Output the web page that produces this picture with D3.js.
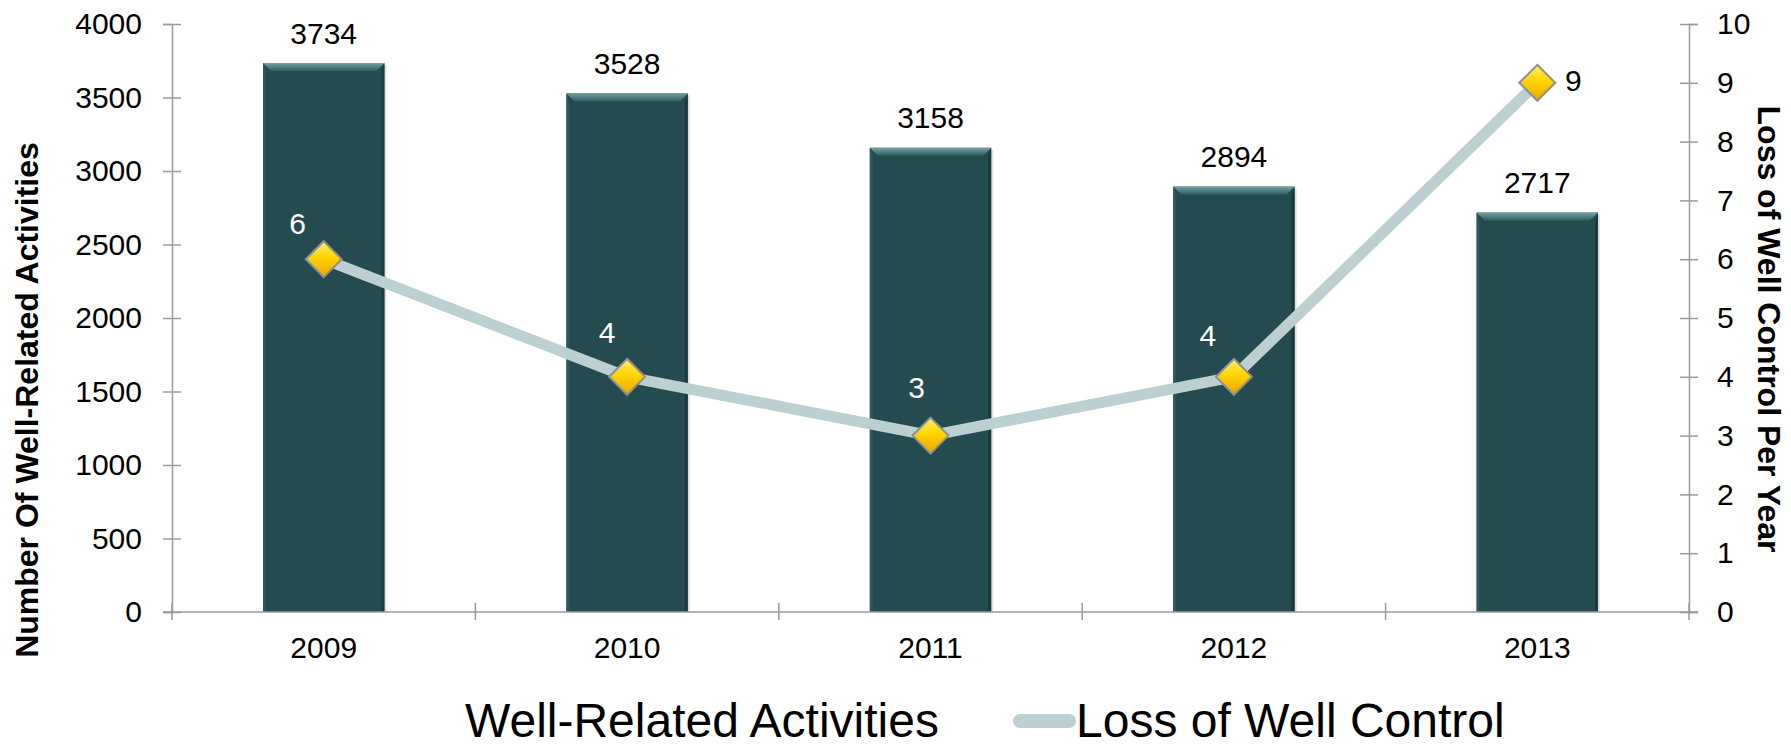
<!DOCTYPE html>
<html>
<head>
<meta charset="utf-8">
<script src="https://cdn.jsdelivr.net/npm/d3@7"></script>
<style>
  body { margin: 0; background: #fff; }
  text { font-family: "Liberation Sans", Arial, sans-serif; }
</style>
</head>
<body>
<div id="chart"></div>
<script>
// data
var years      = ["2009", "2010", "2011", "2012", "2013"];
var activities = [3734, 3528, 3158, 2894, 2717];
var losses     = [6, 4, 3, 4, 9];
var leftTicks  = [0, 500, 1000, 1500, 2000, 2500, 3000, 3500, 4000];
var rightTicks = [0, 1, 2, 3, 4, 5, 6, 7, 8, 9, 10];

// where each loss label sits relative to its marker
var lossLabelShift = [[-26, -36], [-20, -44], [-14, -48], [-26, -41], [36, -2]];
var lossLabelColor = ["#fff", "#fff", "#fff", "#fff", "#000"];

var W = 1791, H = 745;
var plotLeft = 172, plotRight = 1689, plotTop = 24, plotBottom = 612;
var labelSize = "30px";

var svg = d3.select("#chart").append("svg")
    .attr("width", W).attr("height", H);

var defs = svg.append("defs");

var bevel = defs.append("linearGradient").attr("id", "bevel")
    .attr("x1", 0).attr("y1", 0).attr("x2", 0).attr("y2", 1);
bevel.append("stop").attr("offset", "0%").attr("stop-color", "#72a1a3");
bevel.append("stop").attr("offset", "100%").attr("stop-color", "#2f5c60");

var gold = defs.append("linearGradient").attr("id", "gold")
    .attr("x1", 0).attr("y1", 0).attr("x2", 0).attr("y2", 1);
gold.append("stop").attr("offset", "0%").attr("stop-color", "#fff06a");
gold.append("stop").attr("offset", "45%").attr("stop-color", "#ffd400");
gold.append("stop").attr("offset", "100%").attr("stop-color", "#eaa600");

var x = d3.scaleBand().domain(years).range([plotLeft, plotRight])
    .paddingInner(0.6).paddingOuter(0.3);
var yL = d3.scaleLinear().domain([0, 4000]).range([plotBottom, plotTop]);
var yR = d3.scaleLinear().domain([0, 10]).range([plotBottom, plotTop]);

var cx = function(d) { return x(d) + x.bandwidth() / 2; };

// bars
var bars = svg.append("g").attr("class", "bars")
  .selectAll("g").data(years).enter().append("g");

bars.append("rect")
    .attr("x", function(d) { return x(d) + 2; })
    .attr("y", function(d, i) { return yL(activities[i]) + 2; })
    .attr("width", x.bandwidth())
    .attr("height", function(d, i) { return plotBottom - yL(activities[i]) - 2; })
    .attr("fill", "#c8c8c8").attr("opacity", 0.6);

bars.append("rect")
    .attr("x", function(d) { return x(d); })
    .attr("y", function(d, i) { return yL(activities[i]); })
    .attr("width", x.bandwidth())
    .attr("height", function(d, i) { return plotBottom - yL(activities[i]); })
    .attr("fill", "#244c50");

var b = 8;
bars.append("path")
    .attr("d", function(d, i) {
      var x0 = x(d), x1 = x(d) + x.bandwidth(), y0 = yL(activities[i]);
      return "M" + x0 + "," + y0 + "L" + x1 + "," + y0 + "L" + (x1 - b) + "," + (y0 + b) +
             "L" + (x0 + b) + "," + (y0 + b) + "Z";
    })
    .attr("fill", "url(#bevel)");

bars.append("path")
    .attr("d", function(d, i) {
      var x0 = x(d), y0 = yL(activities[i]);
      return "M" + x0 + "," + y0 + "L" + (x0 + 3) + "," + (y0 + b) + "L" + (x0 + 3) + "," + plotBottom +
             "L" + x0 + "," + plotBottom + "Z";
    })
    .attr("fill", "#2c585c");

bars.append("path")
    .attr("d", function(d, i) {
      var x1 = x(d) + x.bandwidth(), y0 = yL(activities[i]);
      return "M" + x1 + "," + y0 + "L" + (x1 - 3) + "," + (y0 + b) + "L" + (x1 - 3) + "," + plotBottom +
             "L" + x1 + "," + plotBottom + "Z";
    })
    .attr("fill", "#1b3a3d");

bars.append("text")
    .attr("x", cx)
    .attr("y", function(d, i) { return yL(activities[i]) - 30; })
    .attr("dy", "0.35em")
    .attr("text-anchor", "middle")
    .style("font-size", labelSize)
    .text(function(d, i) { return activities[i]; });

// axes
var axisColor = "#9a9a9a";

var gL = svg.append("g").attr("transform", "translate(" + plotLeft + ",0)")
    .call(d3.axisLeft(yL).tickValues(leftTicks).tickFormat(d3.format("d"))
      .tickSize(9).tickPadding(21));
gL.selectAll("line").attr("x1", 9);

var gR = svg.append("g").attr("transform", "translate(" + plotRight + ",0)")
    .call(d3.axisRight(yR).tickValues(rightTicks).tickSize(9).tickPadding(19));
gR.selectAll("line").attr("x1", -9);

var gX = svg.append("g").attr("transform", "translate(0," + plotBottom + ")")
    .call(d3.axisBottom(x).tickSize(0).tickPadding(25));
gX.select(".domain").attr("d", "M" + (plotLeft - 9) + ",0H" + (plotRight + 9));

var bounds = d3.range(years.length + 1).map(function(i) { return plotLeft + i * x.step(); });
gX.selectAll(".bound").data(bounds).enter().append("line")
    .attr("class", "bound")
    .attr("x1", function(d) { return d; }).attr("x2", function(d) { return d; })
    .attr("y1", -9).attr("y2", 8);

[gL, gR, gX].forEach(function(g) {
  g.select(".domain").attr("stroke", axisColor).attr("stroke-width", 1.5);
  g.selectAll("line").attr("stroke", axisColor).attr("stroke-width", 1.5);
  g.selectAll("text").attr("fill", "#000").style("font-size", labelSize)
      .style("font-family", "'Liberation Sans', Arial, sans-serif");
});

// axis titles
svg.append("text")
    .attr("transform", "translate(38,400) rotate(-90)")
    .attr("text-anchor", "middle")
    .style("font-size", "32px").style("font-weight", "bold")
    .text("Number Of Well-Related Activities");

svg.append("text")
    .attr("transform", "translate(1758,329) rotate(90)")
    .attr("text-anchor", "middle")
    .style("font-size", "32px").style("font-weight", "bold")
    .text("Loss of Well Control Per Year");

// loss line
var line = d3.line()
    .x(function(d, i) { return cx(years[i]); })
    .y(function(d) { return yR(d); });

svg.append("path")
    .datum(losses)
    .attr("fill", "none")
    .attr("stroke", "#bccfd1")
    .attr("stroke-width", 11)
    .attr("stroke-linejoin", "round")
    .attr("d", line);

var r = 18;
svg.append("g").selectAll("path").data(losses).enter().append("path")
    .attr("transform", function(d, i) { return "translate(" + cx(years[i]) + "," + yR(d) + ")"; })
    .attr("d", "M0," + (-r) + "L" + r + ",0L0," + r + "L" + (-r) + ",0Z")
    .attr("fill", "url(#gold)")
    .attr("stroke", "#8f8f8f")
    .attr("stroke-width", 2);

svg.append("g").selectAll("text").data(losses).enter().append("text")
    .attr("x", function(d, i) { return cx(years[i]) + lossLabelShift[i][0]; })
    .attr("y", function(d, i) { return yR(d) + lossLabelShift[i][1]; })
    .attr("dy", "0.35em")
    .attr("text-anchor", "middle")
    .attr("fill", function(d, i) { return lossLabelColor[i]; })
    .style("font-size", labelSize)
    .text(function(d) { return d; });

// legend
var legend = svg.append("g");
legend.append("text")
    .attr("x", 465).attr("y", 737)
    .style("font-size", "48px")
    .text("Well-Related Activities");
legend.append("line")
    .attr("x1", 1020).attr("x2", 1069).attr("y1", 721).attr("y2", 721)
    .attr("stroke", "#bccfd1").attr("stroke-width", 14).attr("stroke-linecap", "round");
legend.append("text")
    .attr("x", 1076).attr("y", 737)
    .style("font-size", "48px")
    .text("Loss of Well Control");
</script>
</body>
</html>
